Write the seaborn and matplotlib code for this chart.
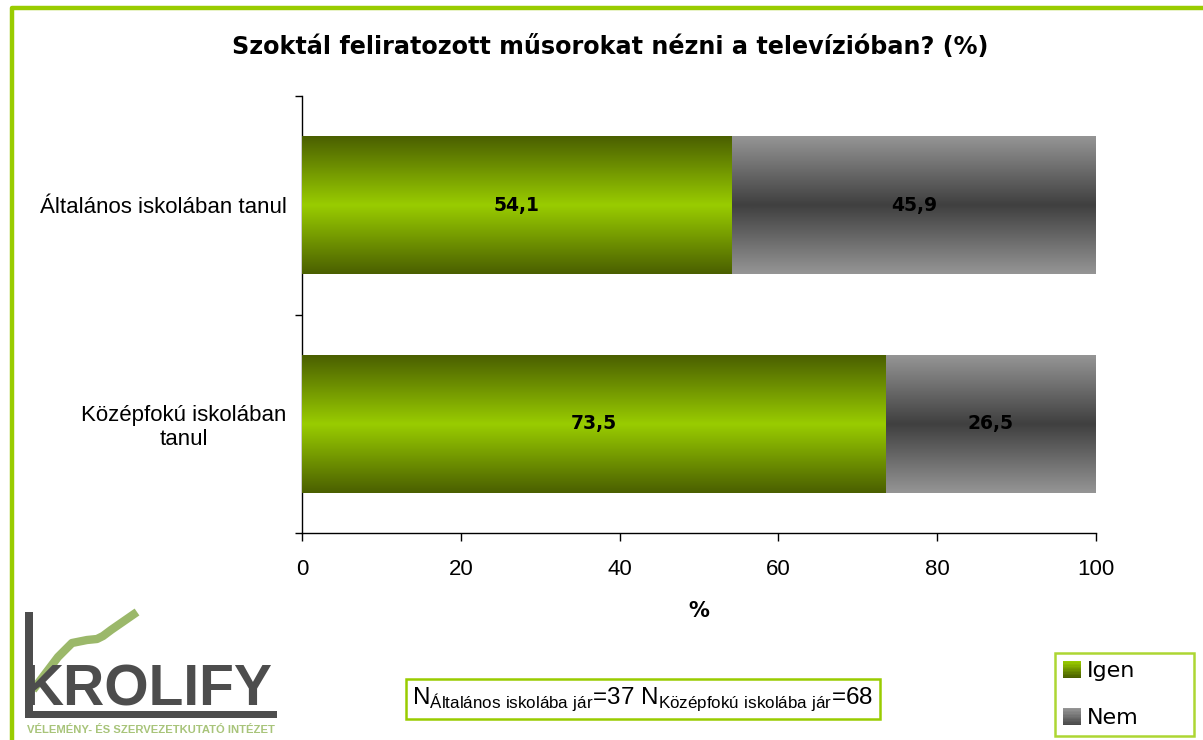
import numpy as np
import pandas as pd
import seaborn as sns
import matplotlib.pyplot as plt
from matplotlib.colors import LinearSegmentedColormap
from matplotlib.patches import Rectangle
from matplotlib.legend_handler import HandlerBase
from matplotlib.lines import Line2D

categories = ["Általános iskolában tanul", "Középfokú iskolában\ntanul"]
igen = [54.1, 73.5]
nem = [45.9, 26.5]
series = ["Igen", "Nem"]
n_note = r"N$_{\mathregular{Általános\ iskolába\ jár}}$=37 N$_{\mathregular{Középfokú\ iskolába\ jár}}$=68"
title = "Szoktál feliratozott műsorokat nézni a televízióban? (%)"

sns.set_style("white")
plt.rcParams["font.family"] = ["Liberation Sans", "DejaVu Sans"]
plt.rcParams["mathtext.fontset"] = "custom"
plt.rcParams["mathtext.rm"] = "Liberation Sans"
for k in ["text.color", "axes.labelcolor", "xtick.color", "ytick.color"]:
    plt.rcParams[k] = "black"

df = pd.DataFrame({"cat": categories, "Igen": igen, "Nem": nem})
df["total"] = df["Igen"] + df["Nem"]

GREEN_EDGE, GREEN_MID = "#4a5f00", "#99cc00"
GRAY_EDGE, GRAY_MID = "#959595", "#404040"
green_cmap = LinearSegmentedColormap.from_list("g", [GREEN_MID, GREEN_EDGE])
gray_cmap = LinearSegmentedColormap.from_list("k", [GRAY_MID, GRAY_EDGE])

fig = plt.figure(figsize=(12.03, 7.40), dpi=100)
ax = fig.add_axes([302 / 1203, 1 - 533 / 740, (1096 - 302) / 1203, (533 - 96) / 740])

sns.barplot(data=df, x="total", y="cat", color=GRAY_MID, width=0.63, ax=ax, orient="h")
sns.barplot(data=df, x="Igen", y="cat", color=GREEN_MID, width=0.63, ax=ax, orient="h")

# gradient fill on each bar
grad = np.abs(np.linspace(-1, 1, 256)).reshape(-1, 1)
for i, p in enumerate(ax.patches):
    cmap = gray_cmap if i < len(categories) else green_cmap
    x0, y0 = p.get_x(), p.get_y()
    w, h = p.get_width(), p.get_height()
    p.set_facecolor("none")
    ax.imshow(grad, extent=[x0, x0 + w, y0 + h, y0], aspect="auto", cmap=cmap,
              zorder=2 + i // len(categories), interpolation="bilinear")

# value labels
for i, c in enumerate(categories):
    ax.text(igen[i] / 2, i, f"{igen[i]:.1f}".replace(".", ","), ha="center", va="center",
            fontsize=13.5, fontweight="bold", family="DejaVu Sans", zorder=5)
    ax.text(igen[i] + nem[i] / 2, i, f"{nem[i]:.1f}".replace(".", ","), ha="center", va="center",
            fontsize=13.5, fontweight="bold", family="DejaVu Sans", zorder=5)

ax.set_xlim(0, 100)
ax.set_ylim(1.5, -0.5)
ax.set_xticks(range(0, 101, 20))
ax.set_yticks([-0.5, 0.5, 1.5])
ax.set_yticklabels([])
ax.set_yticks(range(len(categories)), minor=True)
ax.set_yticklabels(categories, minor=True, multialignment="center")
ax.tick_params(axis="y", which="minor", length=0, pad=11, labelsize=16)
ax.tick_params(axis="y", which="major", direction="out", length=5, width=1, color="black", left=True)
ax.tick_params(axis="x", direction="out", length=6, width=1, color="black", bottom=True,
               labelsize=16, pad=13)
ax.set_ylabel("")
ax.set_xlabel("%", fontsize=15, fontweight="bold", family="DejaVu Sans", labelpad=15)
for s in ["top", "right"]:
    ax.spines[s].set_visible(False)
for s in ["left", "bottom"]:
    ax.spines[s].set_color("black")
    ax.spines[s].set_linewidth(1)

fig.text(610 / 1203, 1 - 47 / 740, title, ha="center", va="center", fontsize=17.2,
         fontweight="bold", family="DejaVu Sans")

# overlay in pixel coordinates for frame and logo
ov = fig.add_axes([0, 0, 1, 1], zorder=-1)
ov.set_xlim(0, 1203)
ov.set_ylim(740, 0)
ov.axis("off")
ov.add_line(Line2D([12, 12, 1203], [740, 8, 8], color="#99cc00", lw=3.2,
                   solid_joinstyle="round"))
ov.plot([33, 58, 72, 87, 97, 103, 111, 137], [690, 657, 643, 640, 639, 636, 630, 612],
        color="#9bb86a", lw=6, solid_capstyle="butt")
ov.add_patch(Rectangle((25, 612), 8, 106, color="#4d4d4d", lw=0))
ov.add_patch(Rectangle((25, 711), 252, 7, color="#4d4d4d", lw=0))
ov.text(22, 706, "KROLIFY", fontsize=41, fontweight="bold", color="#4d4d4d",
        ha="left", va="baseline")
ov.text(151, 730, "VÉLEMÉNY- ÉS SZERVEZETKUTATÓ INTÉZET", fontsize=8.1, fontweight="bold",
        color="#a8c47a", ha="center", va="center")

# N note box
ov.text(643, 699, n_note, fontsize=17.5, ha="center", va="center",
        bbox=dict(boxstyle="square,pad=0.25", facecolor="white", edgecolor="#99cc00", lw=1.8))


class GradHandler(HandlerBase):
    def __init__(self, mid, edge):
        super().__init__()
        self.cmap = LinearSegmentedColormap.from_list("h", [mid, edge])

    def create_artists(self, legend, orig_handle, xdescent, ydescent, width, height,
                       fontsize, trans):
        n = 12
        arts = []
        for k in range(n):
            t = k / (n - 1)
            arts.append(Rectangle((-xdescent, -ydescent + height * (n - 1 - k) / n), width,
                                  height / n, facecolor=self.cmap(t), edgecolor="none",
                                  transform=trans))
        return arts


h_igen = Rectangle((0, 0), 1, 1)
h_nem = Rectangle((0, 0), 1, 1)
leg = fig.legend([h_igen, h_nem], series, loc="lower left", mode="expand",
                 bbox_to_anchor=(1055 / 1203, 1 - 736 / 740, 139 / 1203, 88 / 740),
                 borderaxespad=0, frameon=True, fancybox=False,
                 handlelength=0.82, handleheight=0.82,
                 handletextpad=0.25, labelspacing=1.2, borderpad=0.35,
                 prop={"family": "DejaVu Sans", "size": 16},
                 handler_map={h_igen: GradHandler("#99cc00", "#4a5f00"),
                              h_nem: GradHandler("#959595", "#4a4a4a")})
leg.get_frame().set_edgecolor("#99cc00")
leg.get_frame().set_linewidth(1.8)

fig.savefig("out.png", dpi=100)
